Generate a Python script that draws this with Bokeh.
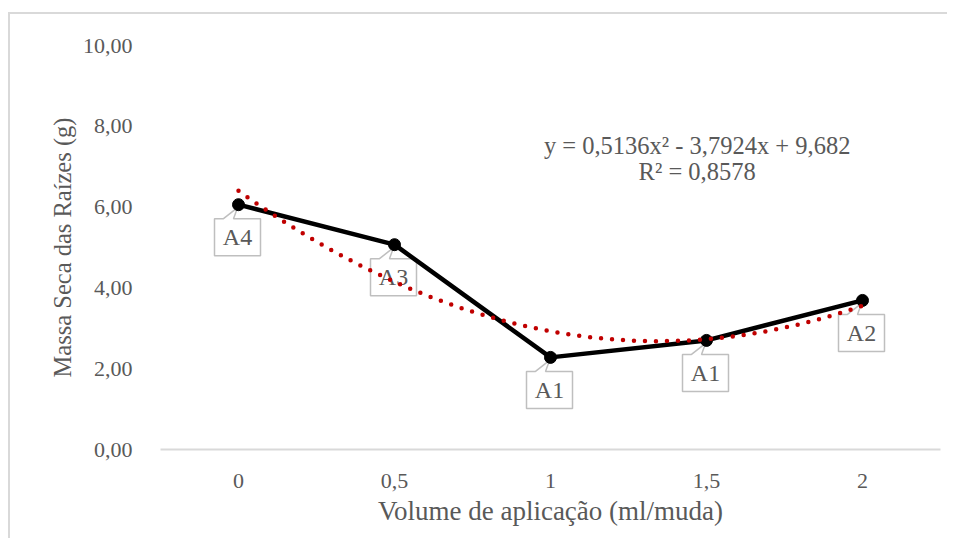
import numpy as np
from bokeh.plotting import figure
from bokeh.models import Range1d, FixedTicker
from bokeh.core.properties import value
from bokeh.embed import file_html
from bokeh.resources import INLINE

# ---- data ----
categories = ["0", "0,5", "1", "1,5", "2"]
massa_seca = [6.06, 5.07, 2.28, 2.70, 3.69]
letras = ["A4", "A3", "A1", "A1", "A2"]
y_ticks = [0, 2, 4, 6, 8, 10]
y_tick_labels = ["0,00", "2,00", "4,00", "6,00", "8,00", "10,00"]
trend_a, trend_b, trend_c = 0.5136, -3.7924, 9.682
eq_lines = ["y = 0,5136x\u00b2 - 3,7924x + 9,682", "R\u00b2 = 0,8578"]

FONT = "serif"
GREY_TXT = "#595959"

FW, FH = 780, 404
X0, X1 = 0.5, len(categories) + 0.5
Y0, Y1 = 0, 10
PXX = FW / (X1 - X0)
PXY = FH / (Y1 - Y0)

p = figure(frame_width=FW, frame_height=FH, x_range=Range1d(X0, X1), y_range=Range1d(Y0, Y1),
           output_backend="svg", toolbar_location=None,
           min_border_left=150, min_border_right=7, min_border_top=31, min_border_bottom=89)
p.styles = {"border-top": "2px solid #d9d9d9", "border-left": "2px solid #d9d9d9",
            "margin-top": "12px", "margin-left": "8px"}
p.outline_line_color = None
p.grid.visible = False
p.background_fill_color = "white"
p.border_fill_color = "white"

xs = list(range(1, len(categories) + 1))

# axes
p.xaxis.ticker = FixedTicker(ticks=xs)
p.xaxis.major_label_overrides = {x: c for x, c in zip(xs, categories)}
p.yaxis.ticker = FixedTicker(ticks=y_ticks)
p.yaxis.major_label_overrides = {t: l for t, l in zip(y_ticks, y_tick_labels)}
for ax in (p.xaxis[0], p.yaxis[0]):
    ax.major_tick_line_color = None
    ax.minor_tick_line_color = None
    ax.major_label_text_font = FONT
    ax.major_label_text_font_size = "22px"
    ax.major_label_text_color = GREY_TXT
    ax.axis_label_text_font = FONT
    ax.axis_label_text_font_style = "normal"
    ax.axis_label_text_color = GREY_TXT
p.xaxis.axis_label_text_font_size = "27px"
p.yaxis.axis_label_text_font_size = "24.5px"
p.yaxis.axis_line_color = None
p.xaxis.axis_line_color = "#d9d9d9"
p.xaxis.axis_line_width = 2
p.yaxis.major_label_standoff = 22
p.xaxis.major_label_standoff = 18
p.yaxis.axis_label_standoff = 4
p.xaxis.axis_label_standoff = 5
p.xaxis.axis_label = "Volume de aplicação (ml/muda)"
p.yaxis.axis_label = "Massa Seca das Raízes (g)"

# callouts (drawn first, below the series)
box_w, box_h, box_gap = 46, 37, 14
polys_x, polys_y, tx, ty = [], [], [], []
for x, y in zip(xs, massa_seca):
    left = -24
    top = box_gap
    pts = [(left, top), (left + 9, top), (-1, 3), (left + 19, top), (left + box_w, top),
           (left + box_w, top + box_h), (left, top + box_h)]
    polys_x.append([x + dx / PXX for dx, dy in pts])
    polys_y.append([y - dy / PXY for dx, dy in pts])
    tx.append(x + (left + box_w / 2) / PXX)
    ty.append(y - (top + box_h / 2) / PXY)
p.patches(polys_x, polys_y, fill_color="white", line_color="#bfbfbf", line_width=1.5)
p.text(tx, ty, text=letras, text_font=value(FONT), text_font_size="24px",
       text_color=GREY_TXT, text_align="center", text_baseline="middle")

# series
p.line(xs, massa_seca, line_color="black", line_width=4.5)
p.scatter(xs, massa_seca, size=12, fill_color="black", line_color="black")

# polynomial trendline (as given by the chart's equation)
tx_ = np.linspace(xs[0], xs[-1], 200)
ty_ = trend_a * tx_ ** 2 + trend_b * tx_ + trend_c
p.line(tx_, ty_, line_color="#c00000", line_width=4.5, line_dash="0 11", line_cap="round")

# equation text
p.text([3.94, 3.94], [7.52, 6.88], text=eq_lines, text_font=value(FONT), text_font_size="24.5px",
       text_color=GREY_TXT, text_align="center", text_baseline="middle")

open("out.html", "w").write(file_html(p, INLINE))
